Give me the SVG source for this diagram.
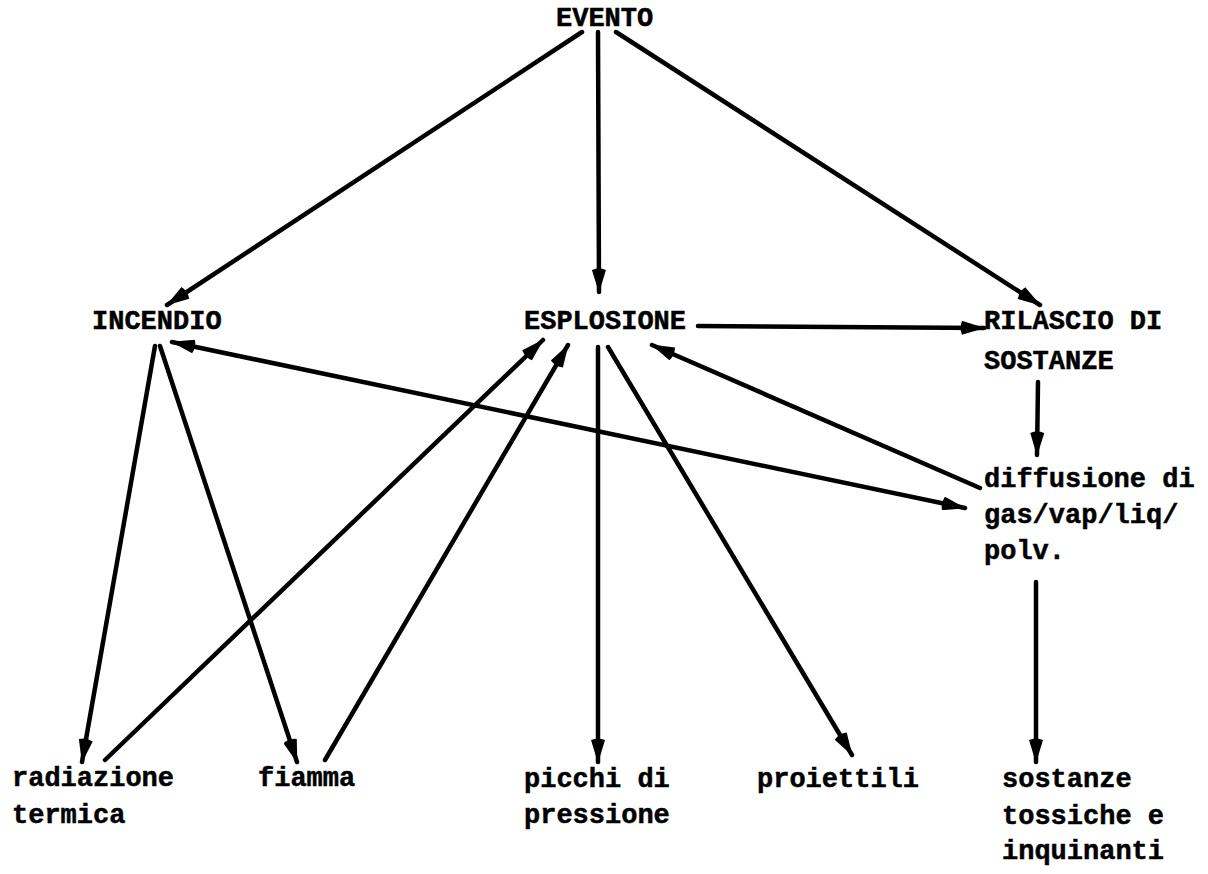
<svg xmlns="http://www.w3.org/2000/svg" width="1208" height="874" viewBox="0 0 1208 874">
<style>
text{font-family:"Liberation Mono","Courier New",monospace;font-weight:bold;font-size:27px;fill:#000;stroke:#000;stroke-width:0.5}
.c{stroke:#000;stroke-width:4.5;fill:none;stroke-linecap:round}
</style>
<defs>
<marker id="ah" viewBox="0 0 26 14" refX="25" refY="7" markerWidth="26" markerHeight="14" markerUnits="userSpaceOnUse" orient="auto-start-reverse">
<path d="M26,7 L3,0 Q0,7 3,14 Z" fill="#000"/>
</marker>
</defs>
<rect width="1208" height="874" fill="#fff"/>
<g id="connectors">
<line class="c" x1="598" y1="32" x2="599" y2="292" marker-end="url(#ah)"/>
<line class="c" x1="582" y1="32" x2="167" y2="305" marker-end="url(#ah)"/>
<line class="c" x1="616" y1="32" x2="1040" y2="305" marker-end="url(#ah)"/>
<line class="c" x1="698" y1="326" x2="984" y2="328" marker-end="url(#ah)"/>
<line class="c" x1="1038" y1="382" x2="1037" y2="455" marker-end="url(#ah)"/>
<line class="c" x1="980" y1="488" x2="652" y2="345" marker-end="url(#ah)"/>
<line class="c" x1="172" y1="342" x2="965" y2="508" marker-start="url(#ah)" marker-end="url(#ah)"/>
<line class="c" x1="155" y1="346" x2="82" y2="762" marker-end="url(#ah)"/>
<line class="c" x1="160" y1="346" x2="297" y2="762" marker-end="url(#ah)"/>
<line class="c" x1="105" y1="760" x2="543" y2="340" marker-end="url(#ah)"/>
<line class="c" x1="325" y1="760" x2="568" y2="345" marker-end="url(#ah)"/>
<line class="c" x1="598" y1="347" x2="598" y2="762" marker-end="url(#ah)"/>
<line class="c" x1="608" y1="347" x2="852" y2="755" marker-end="url(#ah)"/>
<line class="c" x1="1036" y1="582" x2="1036" y2="762" marker-end="url(#ah)"/>
</g>
<g id="evento"><text x="556" y="26">EVENTO</text></g>
<g id="incendio"><text x="92" y="329">INCENDIO</text></g>
<g id="esplosione"><text x="524" y="329">ESPLOSIONE</text></g>
<g id="rilascio"><text x="984" y="329">RILASCIO DI</text><text x="984" y="369">SOSTANZE</text></g>
<g id="diffusione"><text x="984" y="487">diffusione di</text><text x="984" y="523">gas/vap/liq/</text><text x="984" y="559">polv.</text></g>
<g id="radiazione"><text x="12" y="786">radiazione</text><text x="12" y="823">termica</text></g>
<g id="fiamma"><text x="258" y="786">fiamma</text></g>
<g id="picchi"><text x="524" y="787">picchi di</text><text x="524" y="823">pressione</text></g>
<g id="proiettili"><text x="757" y="787">proiettili</text></g>
<g id="sostanze"><text x="1002" y="787">sostanze</text><text x="1002" y="824">tossiche e</text><text x="1002" y="859">inquinanti</text></g>
</svg>
